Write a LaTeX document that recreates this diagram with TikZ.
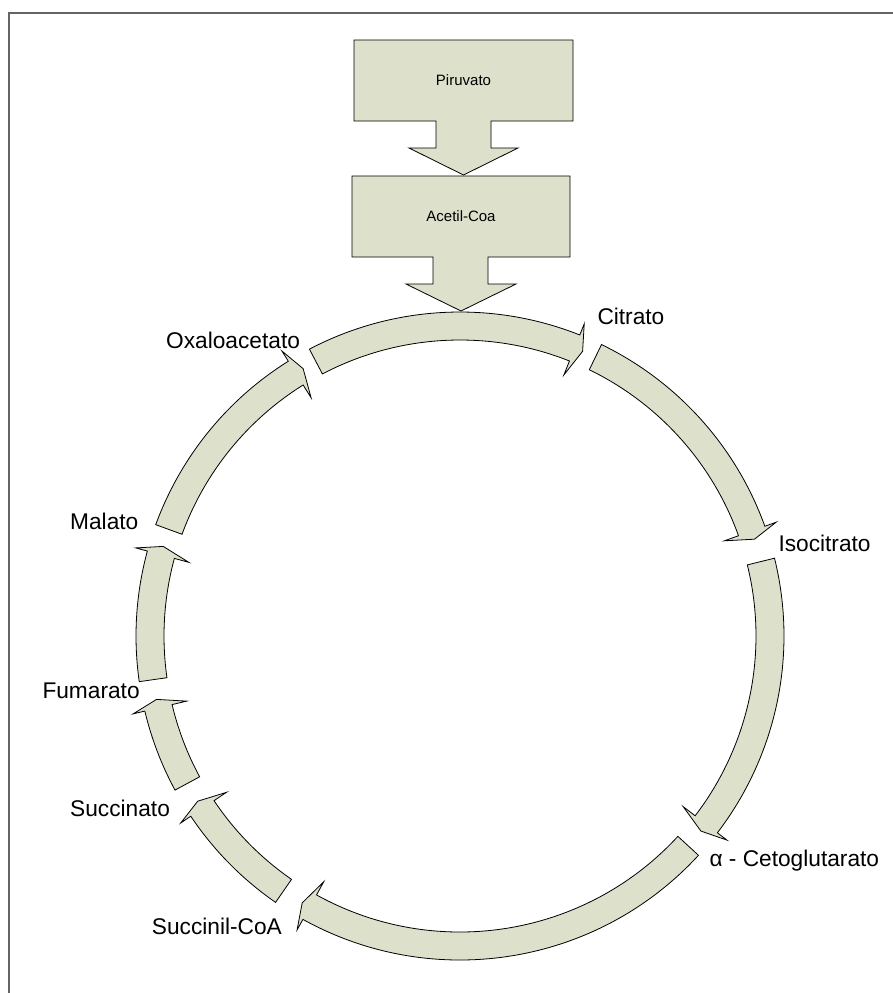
\documentclass[tikz,border=0pt]{standalone}
\usepackage{fontspec}
\setmainfont{Liberation Sans}
\definecolor{fillc}{RGB}{221,224,203}
\definecolor{framec}{RGB}{100,100,100}
\newcommand{\cycarrow}[2]{%
  \pgfmathsetmacro{\cycAB}{#2+1.6}%
  \draw[blk] (#1:324pt) arc[start angle=#1, end angle=\cycAB, radius=324pt]
    -- (\cycAB:336pt) -- (#2:310pt) -- (\cycAB:281pt) -- (\cycAB:296pt)
    arc[start angle=\cycAB, end angle=#1, radius=296pt] -- cycle;}
\tikzset{
  blk/.style={fill=fillc, draw=black, line width=0.8pt, line join=miter},
  lbl/.style={font=\fontsize{22.7}{27}\selectfont, inner sep=0pt, anchor=base west},
  smalltxt/.style={font=\fontsize{15}{18}\selectfont, inner sep=0pt}
}
\begin{document}
\begin{tikzpicture}[x=1pt,y=1pt]
\useasboundingbox (0,0) rectangle (893,-993);
\fill[white] (0,0) rectangle (893,-993);
\draw[framec, line width=1.7pt] (8.8,-993) -- (8.8,-13.2) -- (893,-13.2);

% cycle arrows
\begin{scope}[shift={(460,-636)}]
  \cycarrow{117.7}{66.7}
  \cycarrow{64.1}{18.2}
  \cycarrow{13.9}{-39}
  \cycarrow{-42.6}{-120.6}
  \cycarrow{-124.7}{-147.8}
  \cycarrow{-151.6}{-168.2}
  \cycarrow{188.1}{163.2}
  \cycarrow{159.9}{120.4}
\end{scope}

% Piruvato callout
\draw[blk] (354,-40) -- (573,-40) -- (573,-121) -- (491,-121) -- (491,-148)
  -- (518,-148) -- (463.5,-175) -- (409,-148) -- (436,-148) -- (436,-121)
  -- (354,-121) -- cycle;
\node[smalltxt] (piruvato) at (463.5,-80.5) {Piruvato};

% Acetil-Coa callout
\draw[blk] (352,-176) -- (570,-176) -- (570,-257) -- (488,-257) -- (488,-284)
  -- (516,-284) -- (461,-311) -- (406,-284) -- (433,-284) -- (433,-257)
  -- (352,-257) -- cycle;
\node[smalltxt] (acetil) at (461,-216.5) {Acetil-Coa};

% labels
\node[lbl] (citrato) at (597.3,-324) {Citrato};
\node[lbl] (isocitrato) at (778.3,-551.7) {Isocitrato};
\node[lbl] (ceto) at (709.3,-866.7) {α - Cetoglutarato};
\node[lbl] (succoa) at (151.7,-934) {Succinil-CoA};
\node[lbl] (succinato) at (70,-816.7) {Succinato};
\node[lbl] (fumarato) at (42.3,-698.3) {Fumarato};
\node[lbl] (malato) at (70,-529.3) {Malato};
\node[lbl] (oxalo) at (166,-348.5) {Oxaloacetato};
\end{tikzpicture}
\end{document}
